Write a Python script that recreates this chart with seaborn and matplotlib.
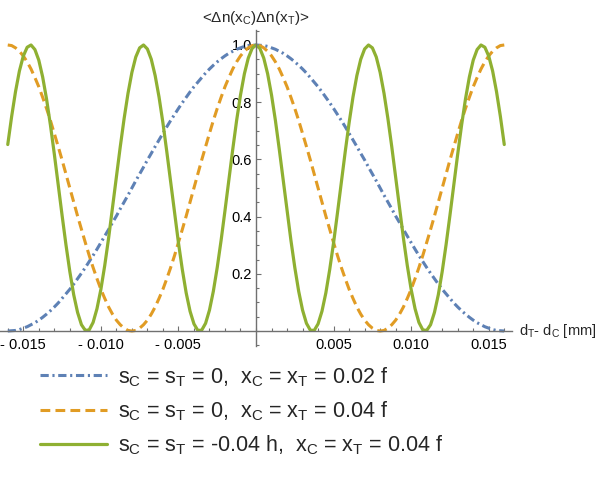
import matplotlib
matplotlib.use('Agg')
import matplotlib.pyplot as plt
import seaborn as sns
from matplotlib.ticker import MultipleLocator

# Sample positions d_T - d_C [mm]
x_vals = [
    -0.016, -0.01575, -0.0155, -0.01525, -0.015, -0.01475, -0.0145, -0.01425,
    -0.014, -0.01375, -0.0135, -0.01325, -0.013, -0.01275, -0.0125, -0.01225,
    -0.012, -0.01175, -0.0115, -0.01125, -0.011, -0.01075, -0.0105, -0.01025,
    -0.01, -0.00975, -0.0095, -0.00925, -0.009, -0.00875, -0.0085, -0.00825,
    -0.008, -0.00775, -0.0075, -0.00725, -0.007, -0.00675, -0.0065, -0.00625,
    -0.006, -0.00575, -0.0055, -0.00525, -0.005, -0.00475, -0.0045, -0.00425,
    -0.004, -0.00375, -0.0035, -0.00325, -0.003, -0.00275, -0.0025, -0.00225,
    -0.002, -0.00175, -0.0015, -0.00125, -0.001, -0.00075, -0.0005, -0.00025,
    0.0,
    0.00025, 0.0005, 0.00075, 0.001, 0.00125, 0.0015, 0.00175, 0.002,
    0.00225, 0.0025, 0.00275, 0.003, 0.00325, 0.0035, 0.00375, 0.004,
    0.00425, 0.0045, 0.00475, 0.005, 0.00525, 0.0055, 0.00575, 0.006,
    0.00625, 0.0065, 0.00675, 0.007, 0.00725, 0.0075, 0.00775, 0.008,
    0.00825, 0.0085, 0.00875, 0.009, 0.00925, 0.0095, 0.00975, 0.01,
    0.01025, 0.0105, 0.01075, 0.011, 0.01125, 0.0115, 0.01175, 0.012,
    0.01225, 0.0125, 0.01275, 0.013, 0.01325, 0.0135, 0.01375, 0.014,
    0.01425, 0.0145, 0.01475, 0.015, 0.01525, 0.0155, 0.01575, 0.016,
]

# s_C = s_T = 0, x_C = x_T = 0.02 f
blue_vals = [
    0.000, 0.001, 0.002, 0.005, 0.010, 0.015, 0.022, 0.029, 0.038, 0.048,
    0.059, 0.071, 0.084, 0.098, 0.114, 0.130, 0.146, 0.164, 0.183, 0.202,
    0.222, 0.243, 0.264, 0.286, 0.309, 0.332, 0.355, 0.379, 0.402, 0.427,
    0.451, 0.475, 0.500, 0.525, 0.549, 0.573, 0.598, 0.621, 0.645, 0.668,
    0.691, 0.714, 0.736, 0.757, 0.778, 0.798, 0.817, 0.836, 0.854, 0.870,
    0.886, 0.902, 0.916, 0.929, 0.941, 0.952, 0.962, 0.971, 0.978, 0.985,
    0.990, 0.995, 0.998, 0.999,
    1.000,
    0.999, 0.998, 0.995, 0.990, 0.985, 0.978, 0.971, 0.962, 0.952, 0.941,
    0.929, 0.916, 0.902, 0.886, 0.870, 0.854, 0.836, 0.817, 0.798, 0.778,
    0.757, 0.736, 0.714, 0.691, 0.668, 0.645, 0.621, 0.598, 0.573, 0.549,
    0.525, 0.500, 0.475, 0.451, 0.427, 0.402, 0.379, 0.355, 0.332, 0.309,
    0.286, 0.264, 0.243, 0.222, 0.202, 0.183, 0.164, 0.146, 0.130, 0.114,
    0.098, 0.084, 0.071, 0.059, 0.048, 0.038, 0.029, 0.022, 0.015, 0.010,
    0.005, 0.002, 0.001, 0.000,
]

# s_C = s_T = 0, x_C = x_T = 0.04 f
orange_vals = [
    1.000, 0.998, 0.990, 0.978, 0.962, 0.941, 0.916, 0.886, 0.854, 0.817,
    0.778, 0.736, 0.691, 0.645, 0.598, 0.549, 0.500, 0.451, 0.402, 0.355,
    0.309, 0.264, 0.222, 0.183, 0.146, 0.114, 0.084, 0.059, 0.038, 0.022,
    0.010, 0.002, 0.000, 0.002, 0.010, 0.022, 0.038, 0.059, 0.084, 0.114,
    0.146, 0.183, 0.222, 0.264, 0.309, 0.355, 0.402, 0.451, 0.500, 0.549,
    0.598, 0.645, 0.691, 0.736, 0.778, 0.817, 0.854, 0.886, 0.916, 0.941,
    0.962, 0.978, 0.990, 0.998,
    1.000,
    0.998, 0.990, 0.978, 0.962, 0.941, 0.916, 0.886, 0.854, 0.817, 0.778,
    0.736, 0.691, 0.645, 0.598, 0.549, 0.500, 0.451, 0.402, 0.355, 0.309,
    0.264, 0.222, 0.183, 0.146, 0.114, 0.084, 0.059, 0.038, 0.022, 0.010,
    0.002, 0.000, 0.002, 0.010, 0.022, 0.038, 0.059, 0.084, 0.114, 0.146,
    0.183, 0.222, 0.264, 0.309, 0.355, 0.402, 0.451, 0.500, 0.549, 0.598,
    0.645, 0.691, 0.736, 0.778, 0.817, 0.854, 0.886, 0.916, 0.941, 0.962,
    0.978, 0.990, 0.998, 1.000,
]

# s_C = s_T = -0.04 h, x_C = x_T = 0.04 f
green_vals = [
    0.652, 0.750, 0.837, 0.909, 0.961, 0.992, 1.000, 0.984, 0.947, 0.888,
    0.811, 0.720, 0.619, 0.512, 0.405, 0.302, 0.208, 0.127, 0.065, 0.022,
    0.002, 0.004, 0.030, 0.078, 0.145, 0.229, 0.325, 0.430, 0.538, 0.644,
    0.743, 0.831, 0.904, 0.958, 0.990, 1.000, 0.986, 0.950, 0.893, 0.818,
    0.728, 0.627, 0.521, 0.413, 0.309, 0.215, 0.133, 0.069, 0.025, 0.002,
    0.003, 0.027, 0.073, 0.139, 0.222, 0.317, 0.421, 0.529, 0.635, 0.736,
    0.825, 0.899, 0.954, 0.988,
    1.000,
    0.988, 0.954, 0.899, 0.825, 0.736, 0.635, 0.529, 0.421, 0.317, 0.222,
    0.139, 0.073, 0.027, 0.003, 0.002, 0.025, 0.069, 0.133, 0.215, 0.309,
    0.413, 0.521, 0.627, 0.728, 0.818, 0.893, 0.950, 0.986, 1.000, 0.990,
    0.958, 0.904, 0.831, 0.743, 0.644, 0.538, 0.430, 0.325, 0.229, 0.145,
    0.078, 0.030, 0.004, 0.002, 0.022, 0.065, 0.127, 0.208, 0.302, 0.405,
    0.512, 0.619, 0.720, 0.811, 0.888, 0.947, 0.984, 1.000, 0.992, 0.961,
    0.909, 0.837, 0.750, 0.652,
]

labels = [
    r's$_{\rm C}$ = s$_{\rm T}$ = 0,  x$_{\rm C}$ = x$_{\rm T}$ = 0.02 f',
    r's$_{\rm C}$ = s$_{\rm T}$ = 0,  x$_{\rm C}$ = x$_{\rm T}$ = 0.04 f',
    r's$_{\rm C}$ = s$_{\rm T}$ = -0.04 h,  x$_{\rm C}$ = x$_{\rm T}$ = 0.04 f',
]

xtick_vals = [-0.015, -0.010, -0.005, 0.005, 0.010, 0.015]
xtick_labels = ['- 0.015', '- 0.010', '- 0.005', '0.005', '0.010', '0.015']
ytick_vals = [0.2, 0.4, 0.6, 0.8, 1.0]
ytick_labels = ['0.2', '0.4', '0.6', '0.8', '1.0']

sns.set_theme(style='white')
plt.rcParams['font.family'] = ['Liberation Sans', 'DejaVu Sans']
plt.rcParams['mathtext.fontset'] = 'custom'
plt.rcParams['mathtext.rm'] = 'Liberation Sans'
plt.rcParams['mathtext.it'] = 'Liberation Sans:italic'

fig = plt.figure(figsize=(5.99, 4.96), dpi=100)
ax = fig.add_axes([0.0, 0.3024, 0.8548, 0.6371])

axis_gray = '#707070'

sns.lineplot(x=x_vals, y=blue_vals, ax=ax, color='#5E81B5', linewidth=2.2,
             linestyle=(0, (2.7, 1.2, 0.7, 1.2)), label=labels[0])
sns.lineplot(x=x_vals, y=orange_vals, ax=ax, color='#E19C24', linewidth=2.2,
             linestyle=(0, (3.2, 1.7)), label=labels[1])
sns.lineplot(x=x_vals, y=green_vals, ax=ax, color='#8FB032', linewidth=2.3,
             label=labels[2])

ax.set_xlim(-0.0165, 0.0165)
ax.set_ylim(-0.0524, 1.0524)

for side in ['top', 'right']:
    ax.spines[side].set_visible(False)
ax.spines['left'].set_position(('data', 0))
ax.spines['bottom'].set_position(('data', 0))
for side in ['left', 'bottom']:
    ax.spines[side].set_color(axis_gray)
    ax.spines[side].set_linewidth(1.0)

ax.set_xticks(xtick_vals)
ax.set_xticklabels(xtick_labels)
ax.set_yticks(ytick_vals)
ax.set_yticklabels(ytick_labels)
ax.xaxis.set_minor_locator(MultipleLocator(0.001))
ax.yaxis.set_minor_locator(MultipleLocator(0.05))
ax.tick_params(which='both', direction='in', color=axis_gray, width=0.8,
               labelsize=10.5, labelcolor='black')
ax.tick_params(which='major', length=3.8)
ax.tick_params(which='minor', length=2.0)
ax.tick_params(axis='x', which='both', bottom=True, pad=5)
ax.tick_params(axis='y', which='both', left=True, pad=3)
ax.set_xlabel('')
ax.set_ylabel('')

fig.text(256 / 599, 1 - 18 / 496,
         r'<Δn(x$_{\rm C}$)Δn(x$_{\rm T}$)>', ha='center', va='center',
         fontsize=11)
fig.text(519 / 599, 1 - 331 / 496, r'd$_{\rm T}$- d$_{\rm C}$ [mm]',
         ha='left', va='center', fontsize=10.5)

ax.legend_.remove()
handles, leg_labels = ax.get_legend_handles_labels()
fig.legend(handles, leg_labels, loc='upper left',
           bbox_to_anchor=(40 / 599, 1 - 365 / 496),
           frameon=False, fontsize=15.5, handlelength=3.1,
           handletextpad=0.5, labelspacing=0.5,
           borderaxespad=0, borderpad=0)

fig.savefig('out.png', dpi=100)
